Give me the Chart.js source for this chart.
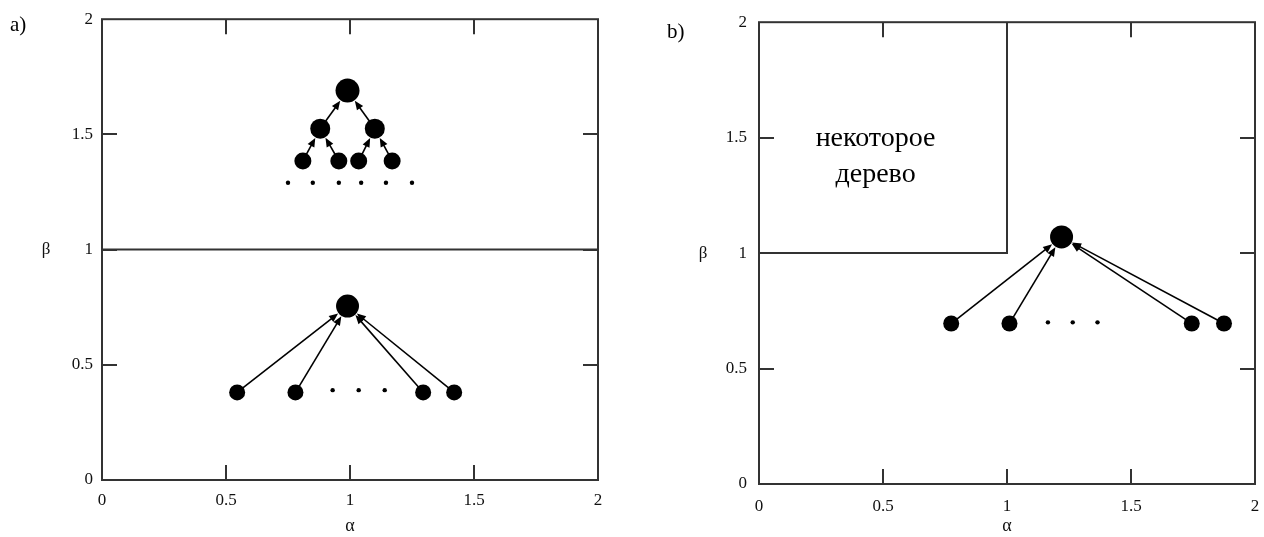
<!DOCTYPE html>
<html><head><meta charset="utf-8">
<script src="https://cdn.jsdelivr.net/npm/chart.js@4/dist/chart.umd.min.js"></script>
<style>
html,body{margin:0;padding:0;background:#fff;width:1264px;height:537px;overflow:hidden;}
.panel{position:absolute;top:0;overflow:visible;}
.tag{position:absolute;font-family:"Liberation Serif",serif;font-size:21px;line-height:20px;color:#000;}
</style></head><body>
<div class="panel" style="left:0;width:620px;height:537px"><canvas id="ca" width="620" height="537"></canvas></div>
<div class="panel" style="left:640px;width:680px;height:537px"><canvas id="cb" width="680" height="537"></canvas></div>
<div class="tag" style="left:10px;top:14px">a)</div>
<div class="tag" style="left:667px;top:21px">b)</div>
<script>
// ---------- data ----------
const tickValues = [0, 0.5, 1, 1.5, 2];
const tickLabels = ['0', '0.5', '1', '1.5', '2'];
const xAxisTitle = 'α';
const yAxisTitle = 'β';

// panel a) upper tree
const aUpperRoot   = [{x:0.99, y:1.69}];
const aUpperMid    = [{x:0.88, y:1.525}, {x:1.10, y:1.525}];
const aUpperLeaves = [{x:0.81, y:1.385}, {x:0.955, y:1.385}, {x:1.035, y:1.385}, {x:1.17, y:1.385}];
const aUpperDots   = [{x:0.75, y:1.29}, {x:0.85, y:1.29}, {x:0.955, y:1.29}, {x:1.045, y:1.29}, {x:1.145, y:1.29}, {x:1.25, y:1.29}];
// panel a) lower tree
const aLowerRoot   = [{x:0.99, y:0.755}];
const aLowerLeaves = [{x:0.545, y:0.38}, {x:0.78, y:0.38}, {x:1.295, y:0.38}, {x:1.42, y:0.38}];
const aLowerDots   = [{x:0.93, y:0.39}, {x:1.035, y:0.39}, {x:1.14, y:0.39}];
// panel a) separating line
const aDivider     = [{x:0, y:1}, {x:2, y:1}];

// panel b)
const bRegion      = [{x:0, y:1}, {x:1, y:1}, {x:1, y:2}];
const bRegionText  = ['некоторое', 'дерево'];
const bTextAt      = [{x:0.47, y:1.495}, {x:0.47, y:1.34}];
const bRoot        = [{x:1.22, y:1.07}];
const bLeaves      = [{x:0.775, y:0.695}, {x:1.01, y:0.695}, {x:1.745, y:0.695}, {x:1.875, y:0.695}];
const bDots        = [{x:1.165, y:0.70}, {x:1.265, y:0.70}, {x:1.365, y:0.70}];

// ---------- helpers ----------
const R = {root:12, mid:10, leaf:8.5, dot:2.2, lroot:11.5, lleaf:8};
const tickFont = {family:'"Liberation Serif", serif', size:17};
const titleFont = {family:'"Liberation Serif", serif', size:18};

const framePlugin = {
  id:'frame',
  beforeDatasetsDraw(chart){
    const {ctx, chartArea:a, scales:{x, y}} = chart;
    ctx.save();
    ctx.strokeStyle = '#333'; ctx.lineWidth = 2;
    ctx.strokeRect(a.left, a.top, a.right - a.left, a.bottom - a.top);
    const tl = 15;
    ctx.beginPath();
    tickValues.forEach(v => {
      if (v === 0 || v === 2) return;
      const px = Math.round(x.getPixelForValue(v));
      ctx.moveTo(px, a.bottom); ctx.lineTo(px, a.bottom - tl);
      ctx.moveTo(px, a.top); ctx.lineTo(px, a.top + tl);
      const py = Math.round(y.getPixelForValue(v));
      ctx.moveTo(a.left, py); ctx.lineTo(a.left + tl, py);
      ctx.moveTo(a.right, py); ctx.lineTo(a.right - tl, py);
    });
    ctx.stroke();
    // upright y title
    ctx.fillStyle = '#111';
    ctx.font = '17px "Liberation Serif", serif';
    ctx.textAlign = 'center'; ctx.textBaseline = 'middle';
    ctx.fillText(yAxisTitle, a.left - 56, (a.top + a.bottom) / 2);
    ctx.restore();
  },
  afterDatasetsDraw(chart){
    const {ctx, scales:{x, y}} = chart;
    const opt = chart.options.plugins.frame || {};
    ctx.save();
    ctx.strokeStyle = '#000'; ctx.fillStyle = '#000'; ctx.lineWidth = 1.6;
    (opt.arrows || []).forEach(ar => {
      const x1 = x.getPixelForValue(ar.from.x), y1 = y.getPixelForValue(ar.from.y);
      const x2 = x.getPixelForValue(ar.to.x),   y2 = y.getPixelForValue(ar.to.y);
      const dx = x2 - x1, dy = y2 - y1, L = Math.hypot(dx, dy), ux = dx / L, uy = dy / L;
      const sx = x1 + ux * ar.r1 * 0.6, sy = y1 + uy * ar.r1 * 0.6;
      const ex = x2 - ux * (ar.r2 + 0.5), ey = y2 - uy * (ar.r2 + 0.5);
      const hl = 9, hw = 3.8;
      ctx.beginPath(); ctx.moveTo(sx, sy); ctx.lineTo(ex - ux * hl * 0.6, ey - uy * hl * 0.6); ctx.stroke();
      ctx.beginPath();
      ctx.moveTo(ex, ey);
      ctx.lineTo(ex - ux * hl - uy * hw, ey - uy * hl + ux * hw);
      ctx.lineTo(ex - ux * hl + uy * hw, ey - uy * hl - ux * hw);
      ctx.closePath(); ctx.fill();
    });
    if (opt.texts) {
      ctx.font = '28px "Liberation Serif", serif';
      ctx.textAlign = 'center'; ctx.textBaseline = 'middle';
      opt.texts.lines.forEach((t, i) => {
        ctx.fillText(t, x.getPixelForValue(opt.texts.at[i].x), y.getPixelForValue(opt.texts.at[i].y));
      });
    }
    ctx.restore();
  }
};

function pts(data, r){
  return {type:'scatter', data, pointRadius:r, pointHoverRadius:r, pointBackgroundColor:'#000', pointBorderWidth:0, borderWidth:0, showLine:false};
}
function poly(data){
  return {type:'line', data, borderColor:'#333', borderWidth:2, pointRadius:0, showLine:true, fill:false, tension:0};
}
function fixedTicks(s){ s.ticks = tickValues.map(v => ({value:v})); }
function labelFor(v){ const i = tickValues.indexOf(v); return i >= 0 ? tickLabels[i] : ''; }

function makeChart(id, datasets, arrowsList, texts, dims){
  return new Chart(document.getElementById(id), {
    type:'scatter',
    data:{datasets},
    plugins:[framePlugin],
    options:{
      responsive:false, animation:false, events:[],
      layout:{padding:{top:dims.top, right:dims.right, left:0, bottom:0}},
      plugins:{legend:{display:false}, tooltip:{enabled:false}, frame:{arrows:arrowsList, texts}},
      scales:{
        x:{type:'linear', min:0, max:2,
           afterBuildTicks:fixedTicks,
           afterFit:s => { s.height = dims.xh; },
           grid:{display:false, drawTicks:false}, border:{display:false},
           ticks:{font:tickFont, color:'#111', padding:dims.xpad, maxRotation:0, autoSkip:false, callback:labelFor},
           title:{display:true, text:xAxisTitle, font:titleFont, color:'#111', padding:{top:0, bottom:0}}},
        y:{type:'linear', min:0, max:2,
           afterBuildTicks:fixedTicks,
           afterFit:s => { s.width = dims.yw; },
           grid:{display:false, drawTicks:false}, border:{display:false},
           ticks:{font:tickFont, color:'#111', padding:dims.ypad, autoSkip:false, callback:labelFor}}
      }
    }
  });
}

// panel a
const aArrows = [
  {from:aUpperMid[0], to:aUpperRoot[0], r1:R.mid, r2:R.root},
  {from:aUpperMid[1], to:aUpperRoot[0], r1:R.mid, r2:R.root},
  {from:aUpperLeaves[0], to:aUpperMid[0], r1:R.leaf, r2:R.mid},
  {from:aUpperLeaves[1], to:aUpperMid[0], r1:R.leaf, r2:R.mid},
  {from:aUpperLeaves[2], to:aUpperMid[1], r1:R.leaf, r2:R.mid},
  {from:aUpperLeaves[3], to:aUpperMid[1], r1:R.leaf, r2:R.mid},
].concat(aLowerLeaves.map(p => ({from:p, to:aLowerRoot[0], r1:R.lleaf, r2:R.lroot})));

makeChart('ca', [
  poly(aDivider),
  pts(aUpperRoot, R.root), pts(aUpperMid, R.mid), pts(aUpperLeaves, R.leaf), pts(aUpperDots, R.dot),
  pts(aLowerRoot, R.lroot), pts(aLowerLeaves, R.lleaf), pts(aLowerDots, R.dot)
], aArrows, null, {top:17, right:22, xh:57, yw:102, xpad:10, ypad:9});

// panel b
const bArrows = bLeaves.map(p => ({from:p, to:bRoot[0], r1:R.lleaf, r2:R.lroot}));
makeChart('cb', [
  poly(bRegion),
  pts(bRoot, R.lroot), pts(bLeaves, R.lleaf), pts(bDots, R.dot)
], bArrows, {lines:bRegionText, at:bTextAt}, {top:22, right:65, xh:53, yw:119, xpad:12, ypad:12});
</script>
</body></html>
